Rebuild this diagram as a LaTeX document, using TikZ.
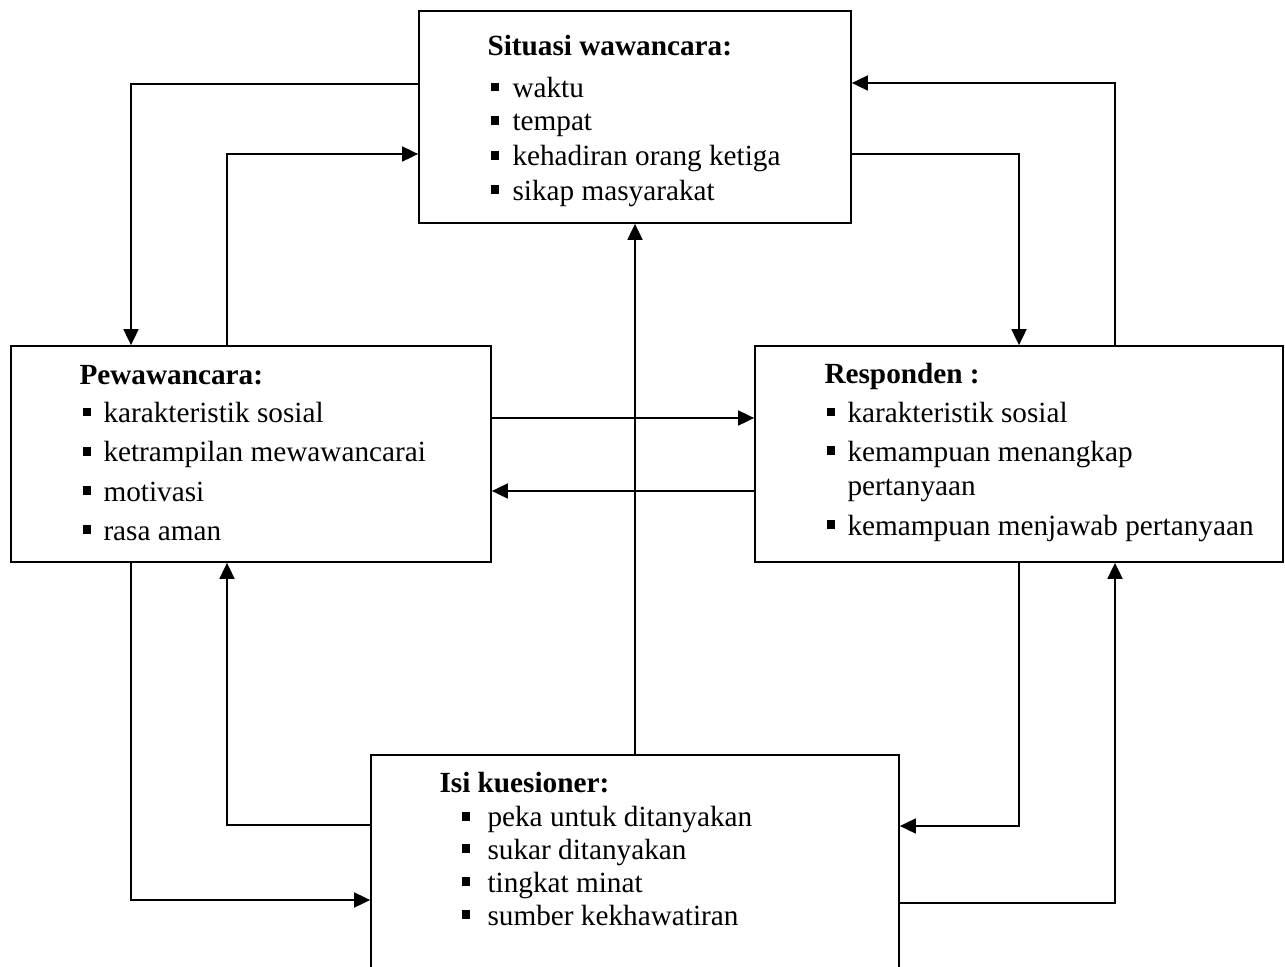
\documentclass[tikz,border=0pt]{standalone}
\usepackage{fontspec}
\setmainfont{Liberation Serif}
\usetikzlibrary{arrows.meta,fit}
\newcommand{\bul}{\rule[2.4pt]{3.4pt}{3.5pt}}
\begin{document}
\begin{tikzpicture}[x=0.4pt,y=-0.4pt,
  box/.style={draw,line width=0.7pt,inner sep=0pt,rectangle},
  txt/.style={anchor=base west,inner sep=0pt,font=\fontsize{11.7pt}{14pt}\selectfont},
  ttl/.style={txt,font=\fontsize{11.7pt}{14pt}\selectfont\bfseries},
  conn/.style={line width=0.7pt},
  arr/.style={conn,-{Triangle[length=6.4pt,width=6pt]}}]
\useasboundingbox (0,0) rectangle (1285,966);
\clip (0,0) rectangle (1285,966);
% boxes
\node[box,fit={(419,11) (851,223)}] (S) {};
\node[box,fit={(11,346) (491,562)}] (P) {};
\node[box,fit={(755,346) (1283,562)}] (R) {};
\node[box,fit={(371,755) (899,1000)}] (I) {};
% Situasi wawancara
\node[ttl] (s0) at (487,55.3) {Situasi wawancara:};
\node[txt] (s1b) at (490,97.3) {\bul};
\node[txt] (s1) at (512,97.3) {waktu};
\node[txt] (s2b) at (490,131) {\bul};
\node[txt] (s2) at (512,131) {tempat};
\node[txt] (s3b) at (490,165.7) {\bul};
\node[txt] (s3) at (512,165.7) {kehadiran orang ketiga};
\node[txt] (s4b) at (490,200) {\bul};
\node[txt] (s4) at (512,200) {sikap masyarakat};
% Pewawancara
\node[ttl] (p0) at (79,384) {Pewawancara:};
\node[txt] (p1b) at (82,422.3) {\bul};
\node[txt] (p1) at (103,422.3) {karakteristik sosial};
\node[txt] (p2b) at (82,461.7) {\bul};
\node[txt] (p2) at (103,461.7) {ketrampilan mewawancarai};
\node[txt] (p3b) at (82,501) {\bul};
\node[txt] (p3) at (103,501) {motivasi};
\node[txt] (p4b) at (82,540) {\bul};
\node[txt] (p4) at (103,540) {rasa aman};
% Responden
\node[ttl] (r0) at (824,383) {Responden :};
\node[txt] (r1b) at (826,422.3) {\bul};
\node[txt] (r1) at (847,422.3) {karakteristik sosial};
\node[txt] (r2b) at (826,461) {\bul};
\node[txt] (r2) at (847,461) {kemampuan menangkap};
\node[txt] (r2c) at (847,495.5) {pertanyaan};
\node[txt] (r3b) at (826,535) {\bul};
\node[txt] (r3) at (847,535) {kemampuan menjawab pertanyaan};
% Isi kuesioner
\node[ttl] (i0) at (439,792) {Isi kuesioner:};
\node[txt] (i1b) at (461,826.5) {\bul};
\node[txt] (i1) at (487,826.5) {peka untuk ditanyakan};
\node[txt] (i2b) at (461,859) {\bul};
\node[txt] (i2) at (487,859) {sukar ditanyakan};
\node[txt] (i3b) at (461,892) {\bul};
\node[txt] (i3) at (487,892) {tingkat minat};
\node[txt] (i4b) at (461,925) {\bul};
\node[txt] (i4) at (487,925) {sumber kekhawatiran};
% connectors
\draw[arr] (S.west |- 0,84) -| (P.north -| 131,0);
\draw[arr] (P.north -| 227,0) |- (S.west |- 0,154);
\draw[arr] (S.east |- 0,154) -| (R.north -| 1019,0);
\draw[arr] (R.north -| 1115,0) |- (S.east |- 0,83);
\draw[arr] (P.east |- 0,418) -- (R.west |- 0,418);
\draw[arr] (R.west |- 0,491) -- (P.east |- 0,491);
\draw[arr] (I.north -| 635,0) -- (S.south -| 635,0);
\draw[arr] (I.west |- 0,825) -| (P.south -| 227,0);
\draw[arr] (P.south -| 131,0) |- (I.west |- 0,900);
\draw[arr] (R.south -| 1019,0) |- (I.east |- 0,826);
\draw[arr] (I.east |- 0,903) -| (R.south -| 1115,0);
\end{tikzpicture}
\end{document}
